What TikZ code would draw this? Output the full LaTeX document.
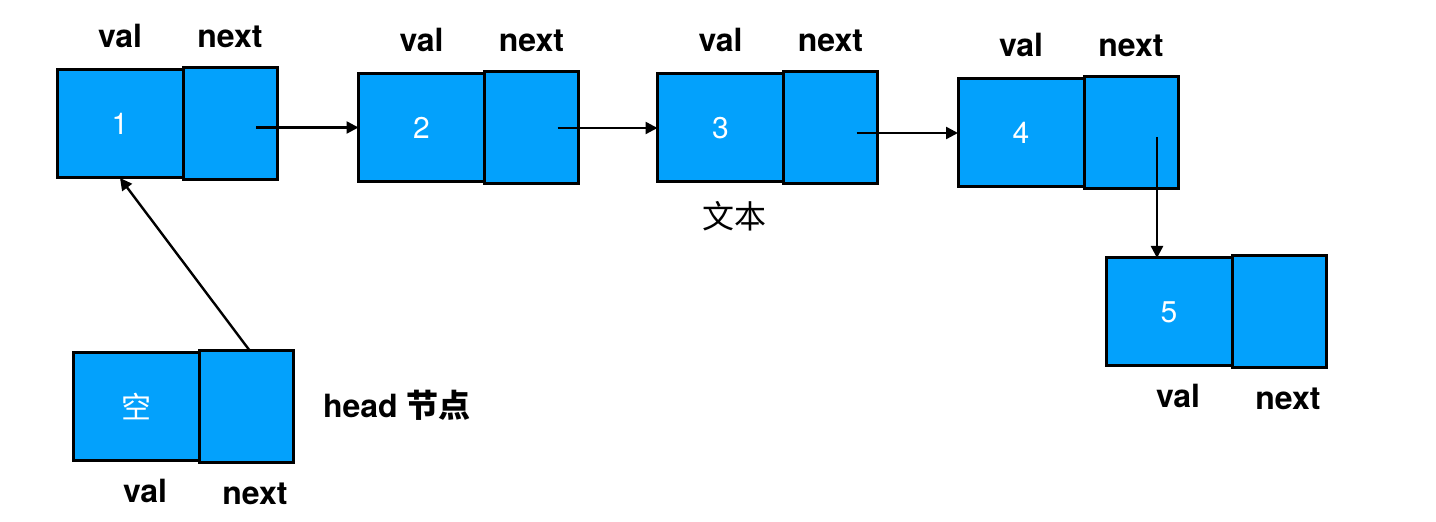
\documentclass[tikz,border=0pt]{standalone}
\usepackage{fontspec}
\setmainfont{TeX Gyre Heros}
\newfontfamily\cjk{Noto Sans CJK SC}
\usetikzlibrary{arrows.meta,positioning}
\definecolor{cellblue}{RGB}{3,161,252}

\begin{document}
\begin{tikzpicture}[x=0.5pt,y=-0.5pt,
 font=\fontsize{15}{17}\selectfont,
 cell/.style={draw,line width=1.5pt,fill=cellblue,text=white,outer sep=0pt,inner sep=0pt},
 valcell/.style={cell,minimum width=63pt,minimum height=54pt},
 nextcell/.style={cell,minimum width=47pt,minimum height=56pt},
 tag/.style={inner sep=0pt,outer sep=0pt,font=\fontsize{16}{19}\selectfont\bfseries},
 ptr/.style={-{Triangle[length=6pt,width=6pt]},line width=1.2pt}]
\useasboundingbox (0,0) rectangle (1436,522);
% the list
\node[valcell] (v1) at (120,124) {1};
\node[nextcell,right=0pt of v1] (n1) {};
\node[valcell] (v2) at (421.5,127.5) {2};
\node[nextcell,right=0pt of v2] (n2) {};
\node[valcell] (v3) at (720.5,128) {3};
\node[nextcell,right=0pt of v3] (n3) {};
\node[valcell] (v4) at (1021,133) {4};
\node[nextcell,right=0pt of v4] (n4) {};
\node[valcell] (v5) at (1169,312) {5};
\node[nextcell,right=0pt of v5] (n5) {};
% head node
\node[valcell] (vh) at (136,407) {\cjk 空};
\node[nextcell,right=0pt of vh] (nh) {};
% field names
\node[tag,above=11pt of v1.north,anchor=base] (v1l) {val};
\node[tag,above=10pt of n1.north,anchor=base] (n1l) {next};
\node[tag,above=11pt of v2.north,anchor=base] (v2l) {val};
\node[tag,above=10pt of n2.north,anchor=base] (n2l) {next};
\node[tag,above=11pt of v3.north,anchor=base] (v3l) {val};
\node[tag,above=10pt of n3.north,anchor=base] (n3l) {next};
\node[tag,above=11pt of v4.north,anchor=base] (v4l) {val};
\node[tag,above=10pt of n4.north,anchor=base] (n4l) {next};
\node[tag,below=21pt of v5.south,anchor=base,xshift=4.5pt] (v5l) {val};
\node[tag,below=21pt of n5.south,anchor=base,xshift=4.5pt] (n5l) {next};
\node[tag,below=21pt of vh.south,anchor=base,xshift=4.5pt] (vhl) {val};
\node[tag,below=21pt of nh.south,anchor=base,xshift=4.5pt] (nhl) {next};
\node[inner sep=0pt,font=\fontsize{16}{19}\selectfont,below=23.5pt of v3.south,anchor=base,xshift=7pt] (txt) {\cjk 文本};
\node[tag,anchor=base west] (hd) at (323,418) {head \cjk 节点};
% pointers
\draw[ptr] ([xshift=13pt]v2.west -| n1.center) -- (v2.west);
\draw[ptr] ([xshift=13pt]v3.west -| n2.center) -- (v3.west);
\draw[ptr] ([xshift=13pt]v4.west -| n3.center) -- (v4.west);
\draw[ptr] ([xshift=13pt,yshift=-2pt]n4.center) -- ([xshift=13pt]n4.center |- v5.north);
\draw[ptr] ([xshift=2pt]nh.north) -- (v1.south);
\end{tikzpicture}
\end{document}
